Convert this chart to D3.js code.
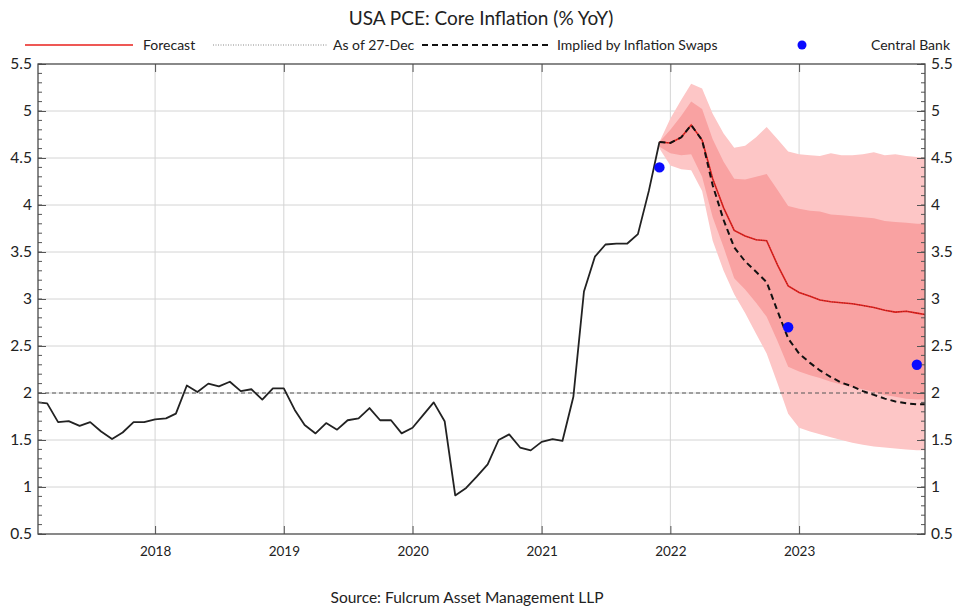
<!DOCTYPE html>
<html>
<head>
<meta charset="utf-8">
<script src="https://cdn.jsdelivr.net/npm/d3@7"></script>
<style>
  html, body { margin: 0; padding: 0; background: #ffffff; }
  svg { display: block; }
  text { font-family: Lato, "Open Sans", "DejaVu Sans", sans-serif; fill: #222; }
</style>
</head>
<body>
<svg id="chart" width="955" height="608"></svg>
<script>
// ---------------- DATA (dates are the positions the chart plots them at) ----------------
const histStart = "2017-02";
const histValues = [
  1.90, 1.89, 1.69, 1.70, 1.65, 1.69, 1.59, 1.51, 1.58, 1.69, 1.69,          // Feb-Dec 2017
  1.72, 1.73, 1.78, 2.08, 2.01, 2.10, 2.07, 2.12, 2.02, 2.04, 1.93, 2.05,    // 2018
  2.05, 1.82, 1.66, 1.57, 1.68, 1.61, 1.71, 1.73, 1.84, 1.71, 1.71, 1.57,    // 2019
  1.63, 1.77, 1.90, 1.70, 0.91, 0.99, 1.11, 1.24, 1.50, 1.56, 1.42, 1.39,    // 2020
  1.48, 1.51, 1.49, 1.96, 3.08, 3.45, 3.58, 3.59, 3.59, 3.69, 4.15, 4.67     // 2021
];

const fcStart = "2021-12";
const forecast = [4.67, 4.66, 4.72, 4.85, 4.69, 4.28, 3.97, 3.73, 3.67, 3.63, 3.62, 3.36, 3.14,
                  3.07, 3.03, 2.99, 2.97, 2.96, 2.95, 2.93, 2.91, 2.88, 2.86, 2.87, 2.85, 2.83];
const asOf27Dec = [4.67, 4.66, 4.72, 4.85, 4.69, 4.28, 3.97, 3.73, 3.67, 3.63, 3.62, 3.36, 3.14,
                  3.07, 3.03, 2.99, 2.97, 2.96, 2.95, 2.93, 2.91, 2.88, 2.86, 2.87, 2.85, 2.83];
const swaps    = [4.67, 4.66, 4.72, 4.85, 4.69, 4.21, 3.84, 3.55, 3.40, 3.29, 3.18, 2.87, 2.58,
                  2.42, 2.32, 2.24, 2.17, 2.11, 2.07, 2.02, 1.98, 1.94, 1.91, 1.89, 1.88, 1.88];
const innerHi  = [4.67, 4.80, 4.95, 5.10, 5.02, 4.70, 4.46, 4.28, 4.27, 4.30, 4.33, 4.16, 3.99,
                  3.96, 3.94, 3.93, 3.90, 3.89, 3.88, 3.87, 3.86, 3.83, 3.82, 3.81, 3.80, 3.80];
const innerLo  = [4.62, 4.55, 4.53, 4.54, 4.30, 3.87, 3.55, 3.22, 3.10, 2.96, 2.81, 2.55, 2.28,
                  2.23, 2.19, 2.16, 2.12, 2.09, 2.06, 2.04, 2.01, 1.98, 1.96, 1.94, 1.93, 1.93];
const outerHi  = [4.67, 4.92, 5.12, 5.29, 5.24, 4.97, 4.76, 4.61, 4.63, 4.72, 4.83, 4.70, 4.57,
                  4.54, 4.53, 4.52, 4.55, 4.53, 4.53, 4.54, 4.56, 4.53, 4.54, 4.52, 4.51, 4.50];
const outerLo  = [4.60, 4.42, 4.38, 4.37, 4.15, 3.62, 3.30, 3.05, 2.85, 2.63, 2.42, 2.10, 1.78,
                  1.63, 1.59, 1.56, 1.53, 1.50, 1.47, 1.45, 1.43, 1.42, 1.41, 1.40, 1.39, 1.39];

const cbDates  = ["2021-12", "2022-12", "2023-12"];
const cbValues = [4.40, 2.70, 2.30];

const targetLevel = 2.0;
const yTicks = [0.5, 1, 1.5, 2, 2.5, 3, 3.5, 4, 4.5, 5, 5.5];
const yTickLabels = ["0.5", "1", "1.5", "2", "2.5", "3", "3.5", "4", "4.5", "5", "5.5"];
const xTickYears = [2018, 2019, 2020, 2021, 2022, 2023];

const titleText = "USA PCE: Core Inflation (% YoY)";
const sourceText = "Source: Fulcrum Asset Management LLP";
const legendLabels = ["Forecast", "As of 27-Dec", "Implied by Inflation Swaps", "Central Bank"];

// ---------------- HELPERS ----------------
const parseMonth = d3.timeParse("%Y-%m");
function monthSeries(start, values) {
  const s = parseMonth(start);
  return values.map((v, i) => ({ date: d3.timeMonth.offset(s, i), value: v }));
}
const hist = monthSeries(histStart, histValues);
const fc = monthSeries(fcStart, forecast);
const prev = monthSeries(fcStart, asOf27Dec);
const sw = monthSeries(fcStart, swaps);
const bandInner = innerHi.map((h, i) => ({ date: d3.timeMonth.offset(parseMonth(fcStart), i), hi: h, lo: innerLo[i] }));
const bandOuter = outerHi.map((h, i) => ({ date: d3.timeMonth.offset(parseMonth(fcStart), i), hi: h, lo: outerLo[i] }));
const cb = cbDates.map((d, i) => ({ date: parseMonth(d), value: cbValues[i] }));

// ---------------- LAYOUT ----------------
const L = 38, R = 925, T = 64, B = 534;
const svg = d3.select("#chart");
const x = d3.scaleTime().domain([new Date(2017, 1, 3), new Date(2023, 11, 24)]).range([L, R]);
const y = d3.scaleLinear().domain([0.5, 5.5]).range([B, T]);

svg.append("defs").append("clipPath").attr("id", "plotclip")
  .append("rect").attr("x", L).attr("y", T).attr("width", R - L).attr("height", B - T);

const plot = svg.append("g").attr("clip-path", "url(#plotclip)");

// gridlines
const grid = plot.append("g");
grid.selectAll("line.hy").data(yTicks.filter(v => v > 0.5 && v < 5.5)).join("line")
  .attr("x1", L).attr("x2", R).attr("y1", d => y(d)).attr("y2", d => y(d))
  .attr("stroke", "#d4d4d4").attr("stroke-width", 1);
grid.selectAll("line.vx").data(xTickYears).join("line")
  .attr("x1", d => x(new Date(d, 0, 1))).attr("x2", d => x(new Date(d, 0, 1)))
  .attr("y1", T).attr("y2", B)
  .attr("stroke", "#d4d4d4").attr("stroke-width", 1);

// bands
const area = d3.area().x(d => x(d.date)).y0(d => y(d.lo)).y1(d => y(d.hi));
plot.append("path").datum(bandOuter).attr("d", area).attr("fill", "#fdc6c6");
plot.append("path").datum(bandInner).attr("d", area).attr("fill", "#f9a2a2");

// target line at 2
plot.append("line").attr("x1", L).attr("x2", R).attr("y1", y(targetLevel)).attr("y2", y(targetLevel))
  .attr("stroke", "#555").attr("stroke-width", 1).attr("stroke-dasharray", "4,3");

const line = d3.line().x(d => x(d.date)).y(d => y(d.value));

// history
plot.append("path").datum(hist).attr("d", line)
  .attr("fill", "none").attr("stroke", "#222").attr("stroke-width", 1.8).attr("stroke-linejoin", "round");

// forecast (red) + as-of dotted overlay
plot.append("path").datum(fc).attr("d", line)
  .attr("fill", "none").attr("stroke", "#e8201c").attr("stroke-width", 1.6);
plot.append("path").datum(prev).attr("d", line)
  .attr("fill", "none").attr("stroke", "#7a2a2a").attr("stroke-width", 0.8).attr("stroke-dasharray", "1,1.5");

// swaps dashed
plot.append("path").datum(sw).attr("d", line)
  .attr("fill", "none").attr("stroke", "#111").attr("stroke-width", 2).attr("stroke-dasharray", "6,4");

// central bank dots
plot.selectAll("circle.cb").data(cb).join("circle")
  .attr("cx", d => x(d.date)).attr("cy", d => y(d.value)).attr("r", 5.2).attr("fill", "#0a0aff");

// ---------------- AXES ----------------
const minorY = d3.range(5, 56).map(v => v / 10);
const axisColor = "#555";
const axisG = svg.append("g");

// left axis
const yLeft = d3.axisLeft(y).tickValues(yTicks).tickFormat((d, i) => yTickLabels[i]).tickSizeInner(-8).tickSizeOuter(0).tickPadding(6);
const gl = axisG.append("g").attr("transform", `translate(${L},0)`).call(yLeft);
gl.select(".domain").remove();
gl.selectAll("line").attr("stroke", axisColor);
gl.selectAll("text").attr("font-size", 15.5).attr("fill", "#222").attr("font-family", "Lato, sans-serif");
axisG.append("g").selectAll("line").data(minorY).join("line")
  .attr("x1", L).attr("x2", L + 4).attr("y1", d => y(d)).attr("y2", d => y(d)).attr("stroke", axisColor);

// right axis
const yRight = d3.axisRight(y).tickValues(yTicks).tickFormat((d, i) => yTickLabels[i]).tickSizeInner(-8).tickSizeOuter(0).tickPadding(6);
const gr = axisG.append("g").attr("transform", `translate(${R},0)`).call(yRight);
gr.select(".domain").remove();
gr.selectAll("line").attr("stroke", axisColor);
gr.selectAll("text").attr("font-size", 15.5).attr("fill", "#222").attr("font-family", "Lato, sans-serif");
axisG.append("g").selectAll("line").data(minorY).join("line")
  .attr("x1", R - 4).attr("x2", R).attr("y1", d => y(d)).attr("y2", d => y(d)).attr("stroke", axisColor);

// bottom axis
const xb = d3.axisBottom(x).tickValues(xTickYears.map(yy => new Date(yy, 0, 1))).tickFormat(d3.timeFormat("%Y"))
  .tickSizeInner(-8).tickSizeOuter(0).tickPadding(12);
const gb = axisG.append("g").attr("transform", `translate(0,${B})`).call(xb);
gb.select(".domain").remove();
gb.selectAll("line").attr("stroke", axisColor);
gb.selectAll("text").attr("font-size", 13.5).attr("fill", "#333").attr("font-family", "'Open Sans', sans-serif");

// top axis ticks
const xt = d3.axisTop(x).tickValues(xTickYears.map(yy => new Date(yy, 0, 1))).tickFormat("")
  .tickSizeInner(-8).tickSizeOuter(0);
const gt = axisG.append("g").attr("transform", `translate(0,${T})`).call(xt);
gt.select(".domain").remove();
gt.selectAll("line").attr("stroke", axisColor);

// frame
svg.append("rect").attr("x", L).attr("y", T).attr("width", R - L).attr("height", B - T)
  .attr("fill", "none").attr("stroke", "#4a4a4a").attr("stroke-width", 1.3);

// ---------------- TITLE / LEGEND / SOURCE ----------------
svg.append("text").attr("x", 481).attr("y", 25).attr("text-anchor", "middle")
  .attr("font-size", 19).text(titleText);

const lg = svg.append("g").attr("font-size", 14);
const ly = 45;
lg.append("line").attr("x1", 25).attr("x2", 133).attr("y1", ly).attr("y2", ly)
  .attr("stroke", "#e8201c").attr("stroke-width", 1.6);
lg.append("text").attr("x", 143).attr("y", ly + 5).text(legendLabels[0]);
lg.append("line").attr("x1", 213).attr("x2", 327).attr("y1", ly).attr("y2", ly)
  .attr("stroke", "#888").attr("stroke-width", 1).attr("stroke-dasharray", "1,1.5");
lg.append("text").attr("x", 333).attr("y", ly + 5).text(legendLabels[1]);
lg.append("line").attr("x1", 422).attr("x2", 551).attr("y1", ly).attr("y2", ly)
  .attr("stroke", "#111").attr("stroke-width", 2).attr("stroke-dasharray", "6,4");
lg.append("text").attr("x", 557).attr("y", ly + 5).text(legendLabels[2]);
lg.append("circle").attr("cx", 802).attr("cy", ly).attr("r", 4.5).attr("fill", "#0a0aff");
lg.append("text").attr("x", 950).attr("y", ly + 5).attr("text-anchor", "end").text(legendLabels[3]);

svg.append("text").attr("x", 467).attr("y", 603).attr("text-anchor", "middle")
  .attr("font-size", 15.5).attr("font-family", "'Open Sans', sans-serif").attr("fill", "#333").text(sourceText);
</script>
</body>
</html>
